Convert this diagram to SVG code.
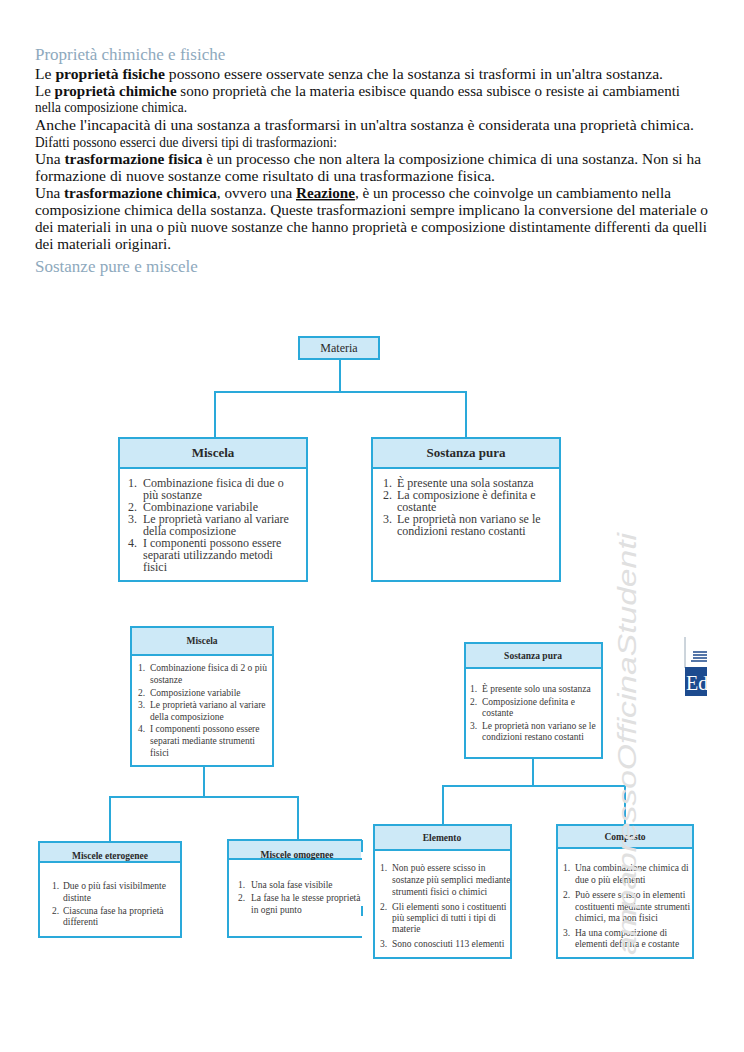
<svg xmlns="http://www.w3.org/2000/svg" width="744" height="1052" viewBox="0 0 744 1052">
<style>
.h{font-family:"Liberation Serif",serif;font-size:17px;fill:#8ea9bd}
.b{font-family:"Liberation Serif",serif;font-size:14.5px;fill:#111}
.bb{font-weight:bold}
.box{fill:#fff;stroke:#2aa9da;stroke-width:2}
.hd{fill:#cde9f7;stroke:#2aa9da;stroke-width:2}
.con{fill:none;stroke:#2aa9da;stroke-width:2}
.t1{font-family:"Liberation Serif",serif;font-size:12px;fill:#3a3a3a}
.th1{font-family:"Liberation Serif",serif;font-size:13px;font-weight:bold;fill:#2a2a2a;text-anchor:middle}
.t2{font-family:"Liberation Serif",serif;font-size:9.5px;fill:#3a3a3a}
.th2{font-family:"Liberation Serif",serif;font-size:9.5px;font-weight:bold;fill:#2a2a2a;text-anchor:middle}
.wm{font-family:"Liberation Sans",sans-serif;font-style:italic;font-size:25px;fill:#e0e0e0}
</style>
<rect width="744" height="1052" fill="#fff"/>
<g id="text">
<text class="h" x="35" y="60">Proprietà chimiche e fisiche</text>
<text class="b" x="35" y="79" textLength="628" lengthAdjust="spacingAndGlyphs">Le <tspan class="bb">proprietà fisiche</tspan> possono essere osservate senza che la sostanza si trasformi in un'altra sostanza.</text>
<text class="b" x="35" y="96" textLength="645" lengthAdjust="spacingAndGlyphs">Le <tspan class="bb">proprietà chimiche</tspan> sono proprietà che la materia esibisce quando essa subisce o resiste ai cambiamenti</text>
<text class="b" x="35" y="112" textLength="152" lengthAdjust="spacingAndGlyphs">nella composizione chimica.</text>
<text class="b" x="35" y="130" textLength="659" lengthAdjust="spacingAndGlyphs">Anche l'incapacità di una sostanza a trasformarsi in un'altra sostanza è considerata una proprietà chimica.</text>
<text class="b" x="35" y="147" textLength="302" lengthAdjust="spacingAndGlyphs">Difatti possono esserci due diversi tipi di trasformazioni:</text>
<text class="b" x="35" y="164" textLength="666" lengthAdjust="spacingAndGlyphs">Una <tspan class="bb">trasformazione fisica</tspan> è un processo che non altera la composizione chimica di una sostanza. Non si ha</text>
<text class="b" x="35" y="181" textLength="460" lengthAdjust="spacingAndGlyphs">formazione di nuove sostanze come risultato di una trasformazione fisica.</text>
<text class="b" x="35" y="198" textLength="636" lengthAdjust="spacingAndGlyphs">Una <tspan class="bb">trasformazione chimica</tspan>, ovvero una <tspan class="bb" text-decoration="underline">Reazione</tspan>, è un processo che coinvolge un cambiamento nella</text>
<text class="b" x="35" y="215" textLength="673" lengthAdjust="spacingAndGlyphs">composizione chimica della sostanza. Queste trasformazioni sempre implicano la conversione del materiale o</text>
<text class="b" x="35" y="232" textLength="672" lengthAdjust="spacingAndGlyphs">dei materiali in una o più nuove sostanze che hanno proprietà e composizione distintamente differenti da quelli</text>
<text class="b" x="35" y="249" textLength="136" lengthAdjust="spacingAndGlyphs">dei materiali originari.</text>
<text class="h" x="35" y="272">Sostanze pure e miscele</text>
</g>
<g id="connectors">
<path class="con" d="M340 359V392M215 438V392H466V438"/>
<path class="con" d="M204 766V797M110 842V797H298V840"/>
<path class="con" d="M533 758V786M443 825V786H625V825"/>
</g>
<g id="materia">
<rect class="hd" x="299" y="337" width="80" height="22"/>
<text x="339" y="352" font-family="Liberation Serif, serif" font-size="12" fill="#2a2a2a" text-anchor="middle">Materia</text>
</g>
<g id="miscela1">
<rect class="box" x="119" y="438" width="188" height="143"/>
<rect class="hd" x="119" y="438" width="188" height="30"/>
<text class="th1" x="213" y="457">Miscela</text>
<g class="t1">
<text x="128" y="487">1.</text><text x="143" y="487">Combinazione fisica di due o</text>
<text x="143" y="499">più sostanze</text>
<text x="128" y="511">2.</text><text x="143" y="511">Combinazione variabile</text>
<text x="128" y="523">3.</text><text x="143" y="523">Le proprietà variano al variare</text>
<text x="143" y="535">della composizione</text>
<text x="128" y="547">4.</text><text x="143" y="547">I componenti possono essere</text>
<text x="143" y="559">separati utilizzando metodi</text>
<text x="143" y="571">fisici</text>
</g>
</g>
<g id="sostanza1">
<rect class="box" x="372" y="438" width="188" height="143"/>
<rect class="hd" x="372" y="438" width="188" height="30"/>
<text class="th1" x="466" y="457">Sostanza pura</text>
<g class="t1">
<text x="383" y="487">1.</text><text x="397" y="487">È presente una sola sostanza</text>
<text x="383" y="499">2.</text><text x="397" y="499">La composizione è definita e</text>
<text x="397" y="511">costante</text>
<text x="383" y="523">3.</text><text x="397" y="523">Le proprietà non variano se le</text>
<text x="397" y="535">condizioni restano costanti</text>
</g>
</g>
<g id="miscela2">
<rect class="box" x="131" y="627" width="142" height="139"/>
<rect class="hd" x="131" y="627" width="142" height="28"/>
<text class="th2" x="202" y="644">Miscela</text>
<g class="t2">
<text x="138" y="671">1.</text><text x="150" y="671">Combinazione fisica di 2 o più</text>
<text x="150" y="683">sostanze</text>
<text x="138" y="696">2.</text><text x="150" y="696">Composizione variabile</text>
<text x="138" y="708">3.</text><text x="150" y="708">Le proprietà variano al variare</text>
<text x="150" y="720">della composizione</text>
<text x="138" y="732">4.</text><text x="150" y="732">I componenti possono essere</text>
<text x="150" y="744">separati mediante strumenti</text>
<text x="150" y="756">fisici</text>
</g>
</g>
<g id="sostanza2">
<rect class="box" x="465" y="643" width="137" height="115"/>
<rect class="hd" x="465" y="643" width="137" height="25"/>
<text class="th2" x="533" y="659">Sostanza pura</text>
<g class="t2">
<text x="470" y="692">1.</text><text x="482" y="692">È presente solo una sostanza</text>
<text x="470" y="705">2.</text><text x="482" y="705">Composizione definita e</text>
<text x="482" y="716">costante</text>
<text x="470" y="729">3.</text><text x="482" y="729">Le proprietà non variano se le</text>
<text x="482" y="740">condizioni restano costanti</text>
</g>
</g>
<g id="eterogenee">
<rect class="box" x="39" y="842" width="142" height="95"/>
<rect class="hd" x="39" y="842" width="142" height="20"/>
<text class="th2" x="110" y="859">Miscele eterogenee</text>
<g class="t2">
<text x="52" y="889">1.</text><text x="63" y="889">Due o più fasi visibilmente</text>
<text x="63" y="901">distinte</text>
<text x="52" y="914">2.</text><text x="63" y="914">Ciascuna fase ha proprietà</text>
<text x="63" y="925">differenti</text>
</g>
</g>
<g id="omogenee">
<rect x="228" y="840" width="133" height="97" fill="#fff"/>
<rect x="228" y="840" width="133" height="19" fill="#cde9f7"/>
<path class="con" d="M362 840H228V937H362M228 859H362"/>
<path class="con" d="M362 840V852M362 906V916"/>
<text class="th2" x="297" y="858">Miscele omogenee</text>
<g class="t2">
<text x="238" y="888">1.</text><text x="251" y="888">Una sola fase visibile</text>
<text x="238" y="901">2.</text><text x="251" y="901">La fase ha le stesse proprietà</text>
<text x="251" y="913">in ogni punto</text>
</g>
</g>
<g id="elemento">
<rect class="box" x="374" y="825" width="137" height="133"/>
<rect class="hd" x="374" y="825" width="137" height="25"/>
<text class="th2" x="442" y="841">Elemento</text>
<g class="t2">
<text x="380" y="871">1.</text><text x="392" y="871">Non può essere scisso in</text>
<text x="392" y="883">sostanze più semplici mediante</text>
<text x="392" y="895">strumenti fisici o chimici</text>
<text x="380" y="910">2.</text><text x="392" y="910">Gli elementi sono i costituenti</text>
<text x="392" y="921">più semplici di tutti i tipi di</text>
<text x="392" y="932">materie</text>
<text x="380" y="947">3.</text><text x="392" y="947">Sono conosciuti 113 elementi</text>
</g>
</g>
<g id="composto">
<rect class="box" x="557" y="825" width="136" height="133"/>
<rect class="hd" x="557" y="825" width="136" height="23"/>
<text class="th2" x="625" y="840">Composto</text>
<g class="t2">
<text x="563" y="871">1.</text><text x="575" y="871">Una combinazione chimica di</text>
<text x="575" y="883">due o più elementi</text>
<text x="563" y="898">2.</text><text x="575" y="898">Può essere scisso in elementi</text>
<text x="575" y="910">costituenti mediante strumenti</text>
<text x="575" y="921">chimici, ma non fisici</text>
<text x="563" y="936">3.</text><text x="575" y="936">Ha una composizione di</text>
<text x="575" y="947">elementi definita e costante</text>
</g>
</g>
<g id="logo">
<line x1="685" y1="637" x2="685" y2="668" stroke="#9aaab8" stroke-width="1"/>
<path d="M693 652H707M693 655H707M693 658H707M691 661H707" stroke="#1e4a8c" stroke-width="1.5"/>
<rect x="685" y="667" width="22" height="29" fill="#1d4b8f"/>
<text x="686" y="690" font-family="Liberation Serif, serif" font-size="20" fill="#fff">Ed</text>
<rect x="707" y="630" width="37" height="80" fill="#fff"/>
</g>
<g id="watermark">
<text class="wm" transform="translate(636 955) rotate(-90)" textLength="422" lengthAdjust="spacingAndGlyphs">ampapressoOfficinaStudenti</text>
</g>
</svg>
